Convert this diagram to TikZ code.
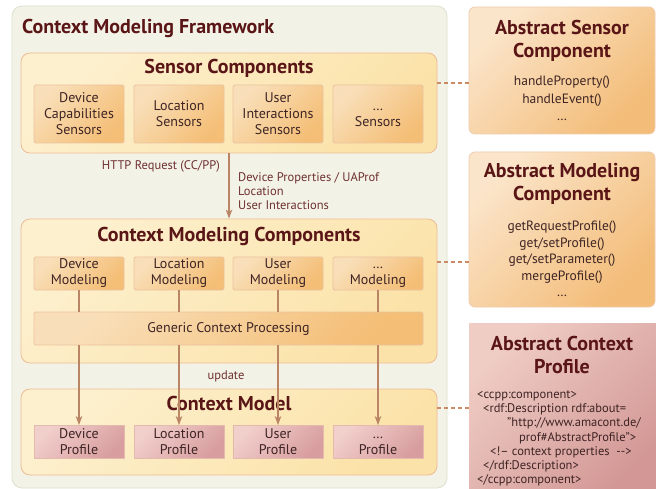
\documentclass[tikz,border=0pt]{standalone}
\usepackage{fontspec}
\setmainfont{PT Sans}
\usetikzlibrary{arrows.meta}
\definecolor{titlec}{HTML}{5A1616}
\definecolor{textc}{HTML}{3E2424}
\definecolor{labelc}{HTML}{6E3030}
\definecolor{fwfill}{HTML}{F3F2E6}
\definecolor{fwdraw}{HTML}{DCE2CF}
\definecolor{conttop}{HTML}{FDF0CE}
\definecolor{contbot}{HTML}{FBE2A8}
\definecolor{contdraw}{HTML}{EDBD96}
\definecolor{subtop}{HTML}{F9DFB9}
\definecolor{subbot}{HTML}{F4BE76}
\definecolor{subdraw}{HTML}{EBC39F}
\definecolor{proftop}{HTML}{F1CFCB}
\definecolor{profbot}{HTML}{D89E9F}
\definecolor{profdraw}{HTML}{E4B9AE}
\definecolor{abstop}{HTML}{FBE5CA}
\definecolor{absbot}{HTML}{F3BC78}
\definecolor{absdraw}{HTML}{EFCDAE}
\definecolor{acptop}{HTML}{EFCDC5}
\definecolor{acpbot}{HTML}{D39896}
\definecolor{arrc}{HTML}{BA8565}
\definecolor{dashc}{HTML}{C98A64}
\newcommand{\myell}{\vphantom{L}…}
\tikzset{
  fwbox/.style={draw=fwdraw, fill=fwfill, line width=0.8pt, rounded corners=10pt, inner sep=0pt},
  contbox/.style={draw=contdraw, top color=conttop, bottom color=contbot, shading angle=45, line width=0.8pt, rounded corners=9pt, inner sep=0pt, minimum width=416pt},
  subbox/.style={draw=subdraw, top color=subtop, bottom color=subbot, shading angle=45, line width=0.8pt, rounded corners=1.5pt, inner sep=0pt, minimum width=90pt, text=textc, font=\fontsize{14}{16}\selectfont, align=center},
  profbox/.style={draw=profdraw, top color=proftop, bottom color=profbot, shading angle=45, line width=0.8pt, inner sep=0pt, minimum width=90pt, minimum height=33pt, text=textc, font=\fontsize{14}{16}\selectfont, align=center},
  absbox/.style={draw=absdraw, top color=abstop, bottom color=absbot, shading angle=45, line width=0.8pt, rounded corners=6pt, inner sep=0pt, minimum width=186pt},
  acpbox/.style={top color=acptop, bottom color=acpbot, shading angle=45, inner sep=0pt},
  ttl/.style={text=titlec, font=\fontsize{20}{23}\selectfont\bfseries, align=center, inner sep=0pt},
  meth/.style={text=textc, font=\fontsize{13.5}{17.5}\selectfont, align=center, inner sep=0pt},
  lbl/.style={text=labelc, font=\fontsize{12.5}{14}\selectfont, inner sep=0pt},
  arr/.style={draw=arrc, line width=1.5pt, -{Stealth[length=9pt,width=6.5pt,inset=2.5pt]}},
  ln/.style={draw=arrc, line width=1.5pt},
  dsh/.style={draw=dashc, line width=1.5pt, dash pattern=on 4pt off 3pt},
}
\begin{document}
\begin{tikzpicture}[x=1pt,y=-1pt]
\useasboundingbox (0,0) rectangle (656,489);
\fill[white] (0,0) rectangle (656,489);
% framework
\node[fwbox, minimum width=435pt, minimum height=482pt] (fw) at (229.5,247) {};
\node[ttl, anchor=west] (fwt) at (22,28) {Context Modeling Framework};
% sensor components
\node[contbox, minimum height=100pt] (sc) at (229,103) {};
\node[ttl] (sct) at (229,68) {Sensor Components};
\node[subbox, minimum height=58pt] (s1) at (79,114) {Device\\Capabilities\\Sensors};
\node[subbox, minimum height=58pt] (s2) at (179,114) {Location\\Sensors};
\node[subbox, minimum height=58pt] (s3) at (278,114) {User\\Interactions\\Sensors};
\node[subbox, minimum height=58pt] (s4) at (378,114) {\myell\\Sensors};
% modeling components
\node[contbox, minimum height=144pt] (cmc) at (229,291) {};
\node[ttl] (cmct) at (229,236) {Context Modeling Components};
\node[subbox, minimum height=33pt] (m1) at (79,273.5) {Device\\Modeling};
\node[subbox, minimum height=33pt] (m2) at (179,273.5) {Location\\Modeling};
\node[subbox, minimum height=33pt] (m3) at (278,273.5) {User\\Modeling};
\node[subbox, minimum height=33pt] (m4) at (378,273.5) {\myell\\Modeling};
\node[subbox, minimum height=33pt, minimum width=389pt] (gen) at (228.5,328.5) {Generic Context Processing};
% context model
\node[contbox, minimum height=86pt] (cm) at (229,432) {};
\node[ttl] (cmt) at (229,403) {Context Model};
\node[profbox] (p1) at (79,442) {Device\\Profile};
\node[profbox] (p2) at (179,442) {Location\\Profile};
\node[profbox] (p3) at (278,442) {User\\Profile};
\node[profbox] (p4) at (378,442) {\myell\\Profile};
% connectors
\draw[arr] (sc.south) -- (cmc.north);
\node[lbl, anchor=east] (http) at (220,166) {HTTP Request (CC/PP)};
\node[lbl, anchor=north west, align=left] (props) at (238,172) {Device Properties / UAProf\\Location\\User Interactions};
\node[lbl] (upd) at (226,376) {update};
\foreach \i in {1,2,3,4}{
  \draw[ln] (m\i.south) -- (m\i.south |- gen.north);
  \draw[arr] (m\i.south |- gen.south) -- (p\i.north);
}
% abstract boxes
\node[absbox, minimum height=127pt] (as) at (562,70.5) {};
\node[ttl] (ast) at (562,40.5) {Abstract Sensor\\Component};
\node[meth] (asm) at (562,98.5) {handleProperty()\\handleEvent()\\…};
\node[absbox, minimum height=155pt] (am) at (562,229.5) {};
\node[ttl] (amt) at (562,183.5) {Abstract Modeling\\Component};
\node[meth, font=\fontsize{13.5}{16.5}\selectfont] (amm) at (562,259) {getRequestProfile()\\get/setProfile()\\get/setParameter()\\mergeProfile()\\…};
\node[acpbox, minimum width=190pt, minimum height=172pt] (acp) at (564,409) {};
\node[ttl] (acpt) at (562,354.5) {Abstract Context\\Profile};
\node[lbl, text=textc, anchor=north west, align=left, font=\fontsize{12.5}{14.2}\selectfont] (code) at (477,390.5) {<ccpp:component>\\
\hspace*{6pt}<rdf:Description rdf:about=\\
\hspace*{30pt}"http://www.amacont.de/\\
\hspace*{42pt}prof\#AbstractProfile">\\
\hspace*{13pt}<!– context properties~ -{}->\\
\hspace*{6pt}</rdf:Description>\\
</ccpp:component>};
% dashed links
\draw[dsh] ([yshift=20pt]sc.east) coordinate (d1) -- (d1 -| as.west);
\draw[dsh] ([yshift=29pt]cmc.east) coordinate (d2) -- (d2 -| am.west);
\draw[dsh] ([yshift=24pt]cm.east) coordinate (d3) -- (d3 -| acp.west);
\end{tikzpicture}
\end{document}
